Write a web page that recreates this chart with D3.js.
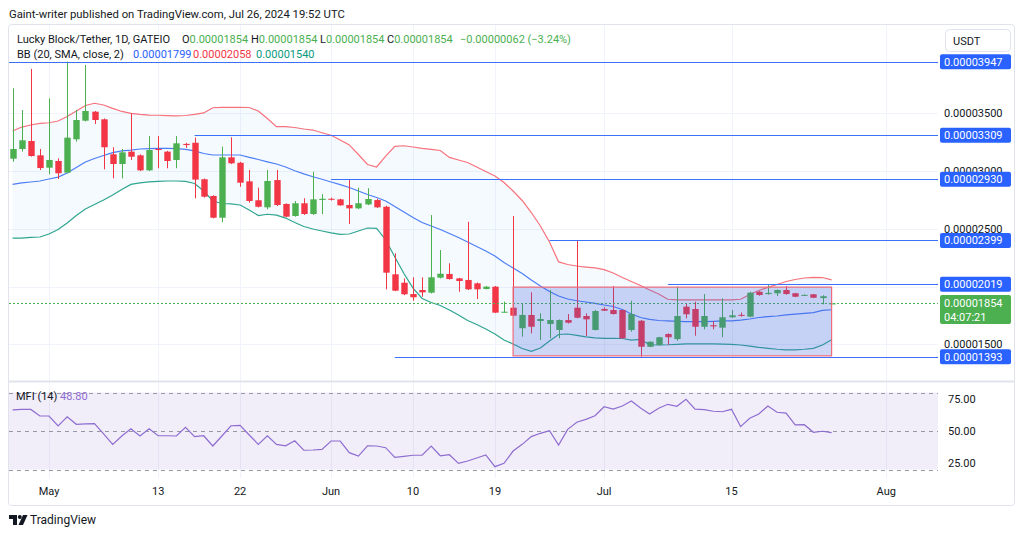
<!DOCTYPE html>
<html><head><meta charset="utf-8">
<script src="https://cdn.jsdelivr.net/npm/d3@7"></script>
<style>
html,body{margin:0;padding:0;background:#fff;}
svg{display:block;font-family:Roboto,"Noto Sans",sans-serif;}
</style></head><body>
<svg id="c" width="1024" height="536"></svg>
<script>
// ---------- DATA (prices in units of 1e-8 USDT) ----------
const startDate = "2024-04-27";           // first daily candle
const open  = [3107,3191,3260,3136,3029,3087,2986,3275,3436,3514,3448,3145,3061,3168,3136,3006,3191,3168,3096,3235,3245,2929,2784,2596,3119,3072,2911,2747,2686,2922,2715,2611,2721,2628,2750,2760,2755,2706,2677,2711,2749,2691,2106,2033,1935,1970,1947,2077,2109,2071,2057,2028,1979,1999,1774,1817,1639,1754,1702,1676,1624,1710,1817,1745,1624,1806,1797,1797,1624,1704,1479,1494,1589,1545,1826,1806,1652,1665,1644,1734,1755,1739,1955,1935,1942,1970,1942,1925,1933,1900,1854];
const high  = [3716,3529,3884,3191,3630,3110,3947,3529,3918,3520,3455,3206,3191,3500,3145,3303,3303,3175,3303,3245,3290,2935,2790,3211,3292,3080,3009,2856,3009,3009,2720,2740,2764,2994,2800,2770,2760,2929,2856,2851,2760,2700,2288,2071,2080,2080,2619,2316,2201,2075,2561,2035,2005,2005,1870,2611,1855,1950,1768,1970,1715,1762,2399,1768,1797,1820,2005,1800,1877,1710,1525,1565,1595,2000,1855,1869,1935,1700,1898,1797,1775,1955,1960,2013,1975,2005,1945,1932,1935,1925,1854];
const low   = [3081,3168,3125,3009,2972,2931,2980,3254,3430,3407,3015,2937,2937,3096,3000,3000,3024,3024,3024,3200,2764,2770,2590,2556,3060,2864,2726,2685,2669,2697,2600,2605,2620,2620,2628,2745,2700,2542,2670,2705,2680,1976,1960,1925,1877,1912,1940,2070,2060,1955,1970,1892,1975,1770,1774,1740,1566,1595,1537,1552,1552,1680,1725,1572,1620,1788,1758,1548,1609,1393,1475,1490,1494,1530,1725,1574,1630,1630,1561,1730,1740,1735,1920,1930,1918,1930,1908,1920,1900,1846,1854];
const close = [3191,3266,3130,3026,3096,2981,3289,3442,3520,3442,3206,3061,3162,3124,3006,3182,3186,3087,3240,3225,2926,2778,2596,3119,3067,2899,2741,2691,2914,2706,2605,2721,2628,2755,2760,2755,2703,2677,2721,2758,2686,2120,1964,1933,1907,1950,2080,2111,2065,2048,1976,1976,1999,1774,1782,1748,1754,1652,1719,1710,1710,1687,1730,1716,1788,1791,1762,1552,1762,1479,1522,1561,1561,1745,1760,1652,1745,1655,1734,1751,1750,1947,1927,1945,1970,1935,1912,1928,1903,1916,1854];
// Bollinger Bands (20, SMA, close, 2)
const bbUpper = [3347,3381,3399,3413,3418,3433,3472,3520,3568,3587,3572,3543,3516,3499,3491,3485,3483,3480,3477,3481,3490,3503,3548,3551,3552,3552,3550,3520,3455,3384,3384,3377,3364,3355,3332,3310,3269,3226,3143,3057,3035,3130,3213,3219,3208,3197,3188,3178,3118,3096,3074,3035,2996,2957,2901,2827,2745,2641,2524,2386,2213,2191,2178,2169,2161,2146,2117,2078,2044,2009,1970,1935,1890,1884,1884,1884,1884,1884,1884,1884,1890,1931,1966,1993,2018,2044,2061,2074,2079,2078,2058];
const bbBasis = [2884,2897,2905,2914,2931,2948,2983,3031,3078,3109,3135,3159,3175,3182,3191,3194,3197,3196,3194,3187,3174,3152,3139,3139,3139,3139,3119,3100,3080,3061,3035,3003,2976,2951,2929,2905,2882,2858,2827,2797,2771,2741,2693,2645,2598,2555,2524,2494,2459,2425,2386,2347,2308,2265,2208,2161,2113,2057,2005,1957,1918,1892,1877,1866,1855,1840,1827,1801,1762,1732,1716,1706,1702,1699,1697,1696,1697,1699,1702,1703,1709,1719,1732,1739,1745,1754,1762,1768,1775,1793,1799];
const bbLower = [2420,2420,2425,2429,2455,2494,2550,2615,2671,2710,2749,2793,2840,2884,2897,2907,2911,2914,2914,2910,2892,2827,2741,2719,2715,2706,2663,2615,2626,2619,2593,2555,2520,2498,2481,2464,2451,2455,2481,2507,2503,2403,2256,2113,1987,1897,1862,1836,1797,1754,1706,1671,1632,1589,1537,1503,1464,1439,1468,1529,1585,1589,1578,1565,1556,1552,1552,1550,1537,1542,1496,1494,1496,1500,1503,1503,1503,1503,1501,1500,1494,1485,1474,1465,1457,1452,1451,1457,1465,1494,1540];
// Money Flow Index (14)
const mfi = [66.4,66.8,66.8,61.7,61.7,53.9,61.1,55.2,55.5,55.7,47.7,39.6,46.1,51.8,46.1,51.8,46.3,46.3,46.1,52.9,45.6,46.3,38.3,46.1,54.1,54.4,46.9,39.6,46.3,39.6,38.5,42.4,35.0,35.2,35.7,42.2,42.2,33.1,30.5,38.5,38.3,37.0,29.5,30.3,31.1,31.1,38.3,30.7,31.5,24.8,26.6,29.0,31.3,22.2,24.8,34.4,39.6,45.6,48.2,50.2,39.1,51.3,56.8,59.1,61.9,68.9,67.1,69.5,73.4,67.9,63.3,67.7,70.8,69.3,74.7,67.1,66.6,65.4,65.0,66.9,53.4,59.9,63.3,69.5,64.6,64.0,54.7,54.9,49.0,49.8,48.8];
// axis ticks
const priceTicks = [1500,2000,2500,3000,3500];
const timeTickDates = ["2024-05-01","2024-05-13","2024-05-22","2024-06-01","2024-06-10","2024-06-19","2024-07-01","2024-07-15","2024-08-01"];
const timeTickLabels = ["May","13","22","Jun","10","19","Jul","15","Aug"];
const mfiTicks = [25,50,75];
const mfiBands = [20,50,80];
// drawings: horizontal rays (price, start date)
const levelPrices = [3947,3309,2930,2399,2019,1393];
const levelStarts = ["2024-04-20","2024-05-17","2024-06-01","2024-06-25","2024-07-08","2024-06-08"];
// rectangle drawing
const rectDates = ["2024-06-21","2024-07-26"];
const rectPrices = [1995,1400];
const countdown = "04:07:21";

// ---------- SETUP ----------
const W=1024,H=536;
const L=9, R=938, mainTop=25, mainBot=381, mfiTop=382, mfiBot=478;
const svg=d3.select("#c");
const parse=d3.utcParse("%Y-%m-%d");
const t0=parse(startDate);
const dates=open.map((_,i)=>d3.utcDay.offset(t0,i));
const candles=dates.map((d,i)=>({d,o:open[i],h:high[i],l:low[i],c:close[i],u:bbUpper[i],b:bbBasis[i],lo:bbLower[i],m:mfi[i]}));
const x=d3.scaleUtc().domain([t0,parse("2024-08-01")]).range([12.6,886.2]);
const y=d3.scaleLinear().domain([1500,3500]).range([344.3,113.3]);
const ym=d3.scaleLinear().domain([20,80]).range([469.5,392.5]);
const fmt=v=>(v/1e8).toFixed(8);
const UP="#4caf50", DN="#f23645";

svg.append("rect").attr("width",W).attr("height",H).attr("fill","#fff");
const defs=svg.append("defs");
defs.append("clipPath").attr("id","cm").append("rect").attr("x",L).attr("y",mainTop).attr("width",R-L).attr("height",mainBot-mainTop);
defs.append("clipPath").attr("id","cf").append("rect").attr("x",L).attr("y",mfiTop).attr("width",R-L).attr("height",mfiBot-mfiTop);

// header
svg.append("text").attr("x",9).attr("y",18).attr("font-size",11.3).attr("fill","#131722")
  .text("Gaint-writer published on TradingView.com, Jul 26, 2024 19:52 UTC");

// frame
svg.append("rect").attr("x",8.5).attr("y",24.5).attr("width",1006).attr("height",481).attr("rx",3)
  .attr("fill","none").attr("stroke","#e0e3eb");

// grid
const grid=svg.append("g").attr("stroke","#f0f3fa").attr("stroke-width",1);
timeTickDates.forEach(s=>{
  const xx=Math.round(x(parse(s)))+0.5;
  grid.append("line").attr("x1",xx).attr("x2",xx).attr("y1",mainTop).attr("y2",mainBot);
  grid.append("line").attr("x1",xx).attr("x2",xx).attr("y1",mfiTop).attr("y2",mfiBot);
});
priceTicks.forEach(p=>{
  const yy=Math.round(y(p))+0.5;
  grid.append("line").attr("x1",L).attr("x2",R).attr("y1",yy).attr("y2",yy);
});

// ---------- MAIN PANE ----------
const main=svg.append("g").attr("clip-path","url(#cm)");
main.append("path").datum(candles)
  .attr("d",d3.area().x(d=>x(d.d)).y0(d=>y(d.lo)).y1(d=>y(d.u)))
  .attr("fill","rgba(33,150,243,0.05)");
const line=k=>d3.line().x(d=>x(d.d)).y(d=>y(d[k]));
main.append("path").datum(candles).attr("d",line("u")).attr("fill","none").attr("stroke","#f7727c").attr("stroke-width",1.2);
main.append("path").datum(candles).attr("d",line("b")).attr("fill","none").attr("stroke","#4d7ef7").attr("stroke-width",1.2);
main.append("path").datum(candles).attr("d",line("lo")).attr("fill","none").attr("stroke","#2fa58f").attr("stroke-width",1.2);

// candles
const bw=6.4;
const cg=main.append("g");
candles.forEach(d=>{
  const col=d.c>=d.o?UP:DN;
  const cx=Math.round(x(d.d))+0.5;
  cg.append("line").attr("x1",cx).attr("x2",cx).attr("y1",y(d.h)).attr("y2",y(d.l)).attr("stroke",col).attr("stroke-width",1);
  const top=y(Math.max(d.o,d.c)), bot=y(Math.min(d.o,d.c));
  cg.append("rect").attr("x",cx-bw/2).attr("y",top).attr("width",bw).attr("height",Math.max(1,bot-top)).attr("fill",col);
});

// current price dotted line
const last=candles[candles.length-1], prev=candles[candles.length-2];
main.append("line").attr("x1",L).attr("x2",R).attr("y1",Math.round(y(last.c))+0.5).attr("y2",Math.round(y(last.c))+0.5)
  .attr("stroke","#4caf50").attr("stroke-width",1).attr("stroke-dasharray","2,2");

// horizontal rays
levelPrices.forEach((p,i)=>{
  const yy=Math.round(y(p))+0.5;
  main.append("line").attr("x1",x(parse(levelStarts[i]))).attr("x2",R).attr("y1",yy).attr("y2",yy)
    .attr("stroke","#3a70fa").attr("stroke-width",1);
});
// rectangle
{
  const x0=x(parse(rectDates[0])), x1=x(parse(rectDates[1]));
  const y0=y(rectPrices[0]), y1=y(rectPrices[1]);
  main.append("rect").attr("x",x0).attr("y",y0).attr("width",x1-x0).attr("height",y1-y0)
    .attr("fill","rgba(60,90,220,0.25)").attr("stroke","#ef6b7a").attr("stroke-width",1.2);
}

// separator
svg.append("line").attr("x1",L).attr("x2",1014).attr("y1",381.5).attr("y2",381.5).attr("stroke","#e0e3eb").attr("stroke-width",2);

// ---------- LEGEND ----------
const g1=svg.append("text").attr("y",43).attr("font-size",11);
g1.append("tspan").attr("x",17).attr("fill","#131722").text("Lucky Block/Tether, 1D, GATEIO");
[["O",last.o,182],["H",last.h,251],["L",last.l,320],["C",last.c,387]].forEach(([k,v,xx])=>{
  g1.append("tspan").attr("x",xx).attr("fill","#131722").text(k);
  g1.append("tspan").attr("fill",UP).text(fmt(v));
});
const chg=last.c-prev.c;
g1.append("tspan").attr("x",460).attr("fill",UP)
  .text((chg<0?"−":"+")+fmt(Math.abs(chg))+" ("+(chg<0?"−":"+")+Math.abs(chg/prev.c*100).toFixed(2)+"%)");
const g2=svg.append("text").attr("y",57.5).attr("font-size",11);
g2.append("tspan").attr("x",17).attr("fill","#131722").text("BB (20, SMA, close, 2)");
g2.append("tspan").attr("x",133).attr("fill","#2962ff").text(fmt(last.b));
g2.append("tspan").attr("x",193).attr("fill","#f23645").text(fmt(last.u));
g2.append("tspan").attr("x",256).attr("fill","#089981").text(fmt(last.lo));

// ---------- MFI PANE ----------
const mp=svg.append("g").attr("clip-path","url(#cf)");
mp.append("rect").attr("x",L).attr("y",ym(80)).attr("width",R-L).attr("height",ym(20)-ym(80)).attr("fill","rgba(126,87,194,0.1)");
mfiBands.forEach(v=>{
  mp.append("line").attr("x1",L).attr("x2",R).attr("y1",Math.round(ym(v))+0.5).attr("y2",Math.round(ym(v))+0.5)
    .attr("stroke","#9598a1").attr("stroke-dasharray","4,4");
});
mp.append("path").datum(candles).attr("d",d3.line().x(d=>x(d.d)).y(d=>ym(d.m)))
  .attr("fill","none").attr("stroke","#8e6dd0").attr("stroke-width",1.2);
const ml=svg.append("text").attr("y",400).attr("font-size",11);
ml.append("tspan").attr("x",16).attr("fill","#131722").text("MFI (14)");
ml.append("tspan").attr("x",60).attr("fill","#8e6dd0").text(last.m.toFixed(2));
mfiTicks.forEach(v=>{
  svg.append("text").attr("x",948).attr("y",ym(v)).attr("dy","0.35em").attr("font-size",11).attr("fill","#131722").text(v.toFixed(2));
});

// ---------- TIME AXIS ----------
timeTickDates.forEach((s,i)=>{
  svg.append("text").attr("x",x(parse(s))).attr("y",495).attr("text-anchor","middle").attr("font-size",11).attr("fill","#131722").text(timeTickLabels[i]);
});

// ---------- PRICE AXIS ----------
priceTicks.forEach(p=>{
  svg.append("text").attr("x",944).attr("y",y(p)).attr("dy","0.35em").attr("font-size",11).attr("fill","#131722").text(fmt(p));
});
levelPrices.forEach(p=>{
  const yy=y(p);
  svg.append("rect").attr("x",940).attr("y",yy-7.5).attr("width",71).attr("height",15).attr("rx",2).attr("fill","#2962ff");
  svg.append("text").attr("x",944).attr("y",yy).attr("dy","0.36em").attr("font-size",11).attr("fill","#fff").text(fmt(p));
});
{
  const yy=y(last.c);
  svg.append("rect").attr("x",940).attr("y",yy-8.5).attr("width",71).attr("height",29).attr("rx",2).attr("fill",UP);
  svg.append("text").attr("x",944).attr("y",yy).attr("dy","0.36em").attr("font-size",11).attr("fill","#fff").text(fmt(last.c));
  svg.append("text").attr("x",944).attr("y",yy+14).attr("dy","0.36em").attr("font-size",11).attr("fill","#fff").text(countdown);
}
// USDT button
svg.append("rect").attr("x",945.5).attr("y",29.5).attr("width",65).attr("height",22).attr("rx",4).attr("fill","#fff").attr("stroke","#e0e3eb");
svg.append("text").attr("x",953).attr("y",41).attr("dy","0.35em").attr("font-size",11).attr("fill","#131722").text("USDT");

// ---------- FOOTER LOGO ----------
const lg=svg.append("g").attr("fill","#131722");
lg.append("path").attr("d","M9 515 h8 v10 h-4 v-6 h-4 z");
lg.append("circle").attr("cx",19.8).attr("cy",517).attr("r",2);
lg.append("path").attr("d","M23 515 h4.5 l-4.5 10 h-4.5 z");
svg.append("text").attr("x",30).attr("y",524).attr("font-size",12).attr("fill","#131722").text("TradingView");
</script>
</body></html>
